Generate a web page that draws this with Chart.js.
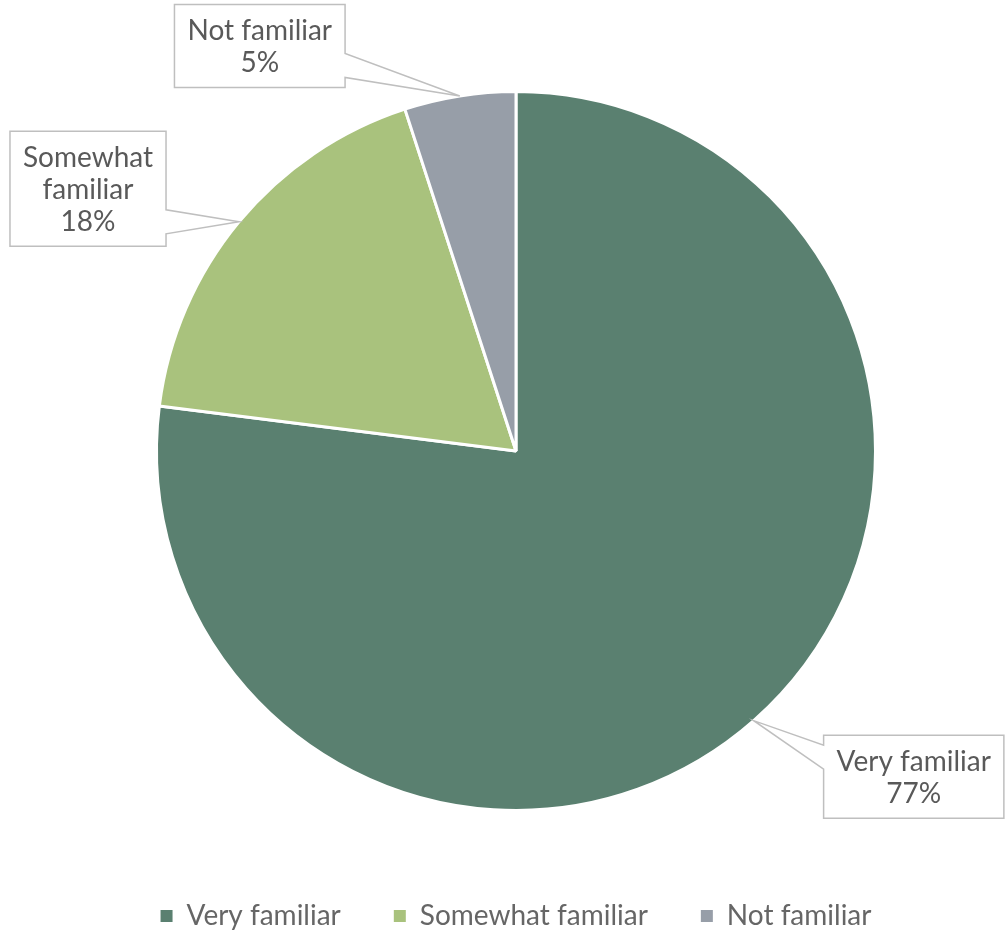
<!DOCTYPE html>
<html><head><meta charset="utf-8">
<script src="https://cdn.jsdelivr.net/npm/chart.js@4"></script>
<style>html,body{margin:0;padding:0;background:#fff;overflow:hidden}#wrap{width:1005px;height:940px;position:relative}</style>
</head><body><div id="wrap"><canvas id="c"></canvas></div>
<script>
const categories = ['Very familiar', 'Somewhat familiar', 'Not familiar'];
const values = [77, 18, 5];
const colors = ['#5A8070', '#A9C27D', '#979EA8'];

const FONT = 'Lato';
const FSIZE = 28;
const TEXT = '#595959';

// callout placement relative to the slice's outer mid-point
const callouts = [
  { dx: 160, dy: 56, maxWidth: 200 },
  { dx: -151, dy: -33, maxWidth: 150 },
  { dx: -200, dy: -50, maxWidth: 200 }
];

function wrapText(ctx, text, maxW) {
  const words = text.split(' ');
  const lines = [];
  let cur = '';
  words.forEach(w => {
    const t = cur ? cur + ' ' + w : w;
    if (cur && ctx.measureText(t).width > maxW) { lines.push(cur); cur = w; } else cur = t;
  });
  if (cur) lines.push(cur);
  return lines;
}

const calloutPlugin = {
  id: 'callouts',
  afterDatasetsDraw(chart) {
    const ctx = chart.ctx;
    const meta = chart.getDatasetMeta(0);
    ctx.save();
    ctx.font = FSIZE + 'px ' + FONT;
    meta.data.forEach((arc, i) => {
      const p = arc.getProps(['x', 'y', 'startAngle', 'endAngle', 'outerRadius'], true);
      const mid = (p.startAngle + p.endAngle) / 2;
      const ax = p.x + Math.cos(mid) * p.outerRadius;
      const ay = p.y + Math.sin(mid) * p.outerRadius;
      const c = callouts[i];
      const lines = wrapText(ctx, categories[i], c.maxWidth).concat([values[i] + '%']);
      const lh = 32;
      const tw = Math.max(...lines.map(l => ctx.measureText(l).width));
      const w = tw + 26, h = lines.length * lh + 19;
      const cx = ax + c.dx, cy = ay + c.dy;
      const L = cx - w / 2, R = cx + w / 2, T = cy - h / 2, B = cy + h / 2;
      const bc = Math.min(Math.max(ay, T + 22), B - 22);
      const hw = 12;
      ctx.beginPath();
      if (ax > R) {
        ctx.moveTo(L, T); ctx.lineTo(R, T); ctx.lineTo(R, bc - hw); ctx.lineTo(ax, ay);
        ctx.lineTo(R, bc + hw); ctx.lineTo(R, B); ctx.lineTo(L, B); ctx.closePath();
      } else {
        ctx.moveTo(L, T); ctx.lineTo(R, T); ctx.lineTo(R, B); ctx.lineTo(L, B);
        ctx.lineTo(L, bc + hw); ctx.lineTo(ax, ay); ctx.lineTo(L, bc - hw); ctx.closePath();
      }
      ctx.fillStyle = '#fff';
      ctx.fill();
      ctx.strokeStyle = '#BFBFBF';
      ctx.lineWidth = 1.5;
      ctx.stroke();
      ctx.fillStyle = TEXT;
      ctx.textAlign = 'center';
      ctx.textBaseline = 'middle';
      lines.forEach((l, k) => {
        ctx.fillText(l, cx, cy - (lines.length - 1) / 2 * lh + k * lh + 1);
      });
    });
    ctx.restore();
  }
};

new Chart(document.getElementById('c'), {
  type: 'pie',
  data: {
    labels: categories,
    datasets: [{
      data: values,
      backgroundColor: colors,
      borderColor: '#FFFFFF',
      borderWidth: 3
    }]
  },
  options: {
    responsive: true,
    maintainAspectRatio: false,
    animation: false,
    layout: { padding: { top: 90, left: 27, right: 0, bottom: 0 } },
    plugins: {
      tooltip: { enabled: false },
      legend: {
        position: 'bottom',
        title: { display: true, text: '', padding: { top: 22.6, bottom: 0 } },
        labels: {
          boxWidth: 12,
          boxHeight: 12,
          padding: 53,
          color: TEXT,
          font: { family: FONT, size: FSIZE },
          generateLabels: (chart) => categories.map((t, i) => ({
            text: t, fillStyle: colors[i], strokeStyle: colors[i], lineWidth: 0, index: i, hidden: false
          }))
        }
      }
    }
  },
  plugins: [calloutPlugin]
});
</script>
</body></html>
